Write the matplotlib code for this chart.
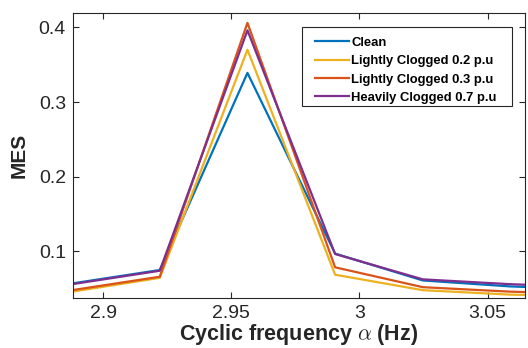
import matplotlib
matplotlib.use("Agg")
import matplotlib.pyplot as plt
from matplotlib.patches import Rectangle

plt.rcParams['font.family'] = ['Liberation Sans', 'DejaVu Sans']
plt.rcParams['mathtext.fontset'] = 'cm'

freq = [2.8879, 2.9221, 2.9563, 2.9905, 3.0247, 3.0589, 3.0931]
clean = [0.057, 0.075, 0.339, 0.097, 0.061, 0.053, 0.049]
light02 = [0.046, 0.0645, 0.370, 0.0687, 0.048, 0.042, 0.040]
light03 = [0.048, 0.066, 0.406, 0.0786, 0.052, 0.046, 0.043]
heavy07 = [0.056, 0.074, 0.396, 0.0964, 0.0625, 0.056, 0.052]

labels = ['Clean', 'Lightly Clogged 0.2 p.u', 'Lightly Clogged 0.3 p.u', 'Heavily Clogged 0.7 p.u']
colors = ['#0072BD', '#EDB120', '#D95319', '#7E2F8E']
series = [clean, light02, light03, heavy07]

xticks = [2.9, 2.95, 3.0, 3.05]
xticklabels = ['2.9', '2.95', '3', '3.05']
yticks = [0.1, 0.2, 0.3, 0.4]
yticklabels = ['0.1', '0.2', '0.3', '0.4']

W, H = 528, 348
fig = plt.figure(figsize=(5.28, 3.48), dpi=100)
ax = fig.add_axes([0.138, 0.1445, 0.856, 0.819])

for s, c, l in zip(series, colors, labels):
    ax.plot(freq, s, color=c, lw=1.6, label=l)

ax.set_xlim(2.8882, 3.0645)
ax.set_ylim(0.0379, 0.4196)
ax.set_xticks(xticks)
ax.set_xticklabels(xticklabels)
ax.set_yticks(yticks)
ax.set_yticklabels(yticklabels)
ax.tick_params(direction='in', top=True, right=True, labelsize=14, colors='#262626', length=4, width=0.8, pad=5)
for sp in ax.spines.values():
    sp.set_color('#262626')
    sp.set_linewidth(0.8)

ax.set_xlabel(r'Cyclic frequency $\alpha$ (Hz)', fontsize=15.5, fontweight='bold', color='#262626', labelpad=0)
ax.set_ylabel('MES', fontsize=15, fontweight='bold', color='#262626', labelpad=7)

# legend frame (pixel box 302..512 x 27..106)
ax.add_patch(Rectangle((302 / W, 1 - 106 / H), 210 / W, 79 / H, transform=fig.transFigure,
                       facecolor='white', edgecolor='#262626', lw=0.8, zorder=4.5, clip_on=False))
leg = ax.legend(loc='upper left', bbox_to_anchor=(312 / W, 1 - 34 / H), bbox_transform=fig.transFigure,
                prop={'weight': 'bold', 'size': 9.4}, frameon=False,
                handlelength=2.6, handletextpad=0.2, borderpad=0.2, labelspacing=0.48,
                borderaxespad=0)
leg.set_zorder(6)

fig.savefig('out.png', dpi=100)
